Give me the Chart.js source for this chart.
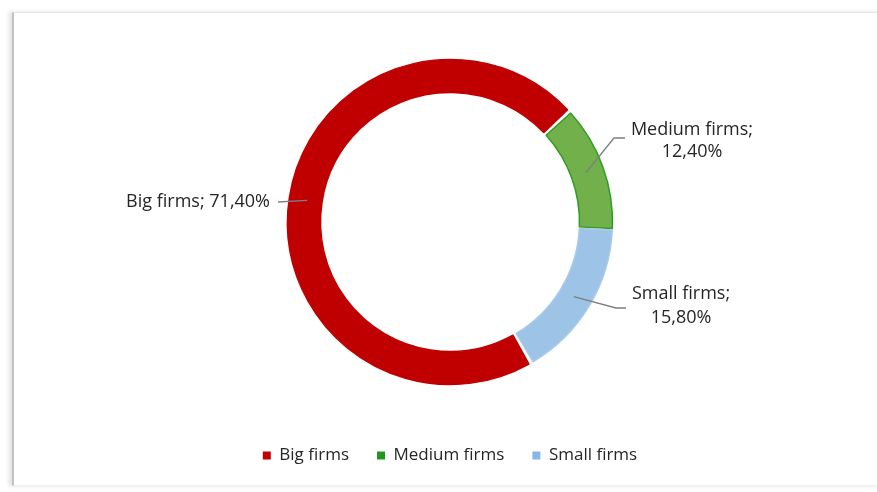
<!DOCTYPE html>
<html>
<head>
<meta charset="utf-8">
<script src="https://cdn.jsdelivr.net/npm/chart.js@4"></script>
<style>
  html, body { margin: 0; padding: 0; background: #fff; overflow: hidden; }
  #wrap { position: relative; width: 877px; height: 492px; }
  #frame {
    position: absolute; left: 12px; top: 12px; width: 900px; height: 472px;
    border-left: 2px solid #c2c2c2; border-top: 1px solid #e6e6e6; border-bottom: 1px solid #efefef;
    box-shadow: -3px 0 4px rgba(0,0,0,0.12);
  }
  #firms-chart { position: absolute; left: 0; top: 0; }
</style>
</head>
<body>
<div id="wrap">
  <div id="frame"></div>
  <canvas id="firms-chart" width="877" height="492"></canvas>
</div>
<script>
const firmTypes = ['Big firms', 'Medium firms', 'Small firms'];
const shares = [71.4, 12.4, 15.8];

const fillColors = ['#c00000', '#72b04c', '#9dc3e6'];
const edgeColors = ['#c00000', '#2e9e24', '#a9cbea'];
const legendColors = ['#c00000', '#22961e', '#85b8e6'];
const textColor = '#262626';
const fontFamily = '"Open Sans", Lato, sans-serif';

// where each data label sits, relative to the ring centre
const labelSpots = [
  { end: [-172, -20], align: 'right', textX: -180, lines: [-20] },
  { elbow: [164, -84], end: [175, -84], align: 'center', textX: 242, lines: [-92, -70] },
  { elbow: [166, 86], end: [176, 86], align: 'center', textX: 231, lines: [72, 96] },
];

function pct(v) {
  return v.toFixed(2).replace('.', ',') + '%';
}

const sliceLabels = {
  id: 'sliceLabels',
  afterDatasetsDraw(chart) {
    const ctx = chart.ctx;
    const meta = chart.getDatasetMeta(0);
    ctx.save();
    meta.data.forEach((arc, i) => {
      const p = arc.getProps(['x', 'y', 'startAngle', 'endAngle', 'innerRadius', 'outerRadius'], true);
      const mid = (p.startAngle + p.endAngle) / 2;
      const r = (p.innerRadius + p.outerRadius) / 2;
      const spot = labelSpots[i];
      ctx.strokeStyle = '#7f7f7f';
      ctx.lineWidth = 1.3;
      ctx.beginPath();
      ctx.moveTo(p.x + Math.cos(mid) * r, p.y + Math.sin(mid) * r);
      if (spot.elbow) ctx.lineTo(p.x + spot.elbow[0], p.y + spot.elbow[1]);
      ctx.lineTo(p.x + spot.end[0], p.y + spot.end[1]);
      ctx.stroke();

      const label = firmTypes[i] + ';';
      const texts = spot.lines.length > 1 ? [label, pct(shares[i])] : [label + ' ' + pct(shares[i])];
      ctx.fillStyle = textColor;
      ctx.font = '18px ' + fontFamily;
      ctx.textAlign = spot.align;
      ctx.textBaseline = 'middle';
      texts.forEach((t, k) => ctx.fillText(t, p.x + spot.textX, p.y + spot.lines[k]));
    });
    ctx.restore();
  }
};

const firmsData = {
  labels: firmTypes,
  datasets: [{
    data: shares,
    backgroundColor: fillColors,
    borderColor: edgeColors,
    borderWidth: 1.5,
    spacing: 3,
  }]
};

const firmsConfig = {
  type: 'doughnut',
  data: firmsData,
  options: {
    responsive: false,
    animation: false,
    rotation: 149.6,
    radius: 161,
    cutout: '79.5%',
    layout: { padding: { left: 23, right: 0, top: 25, bottom: 18 } },
    plugins: {
      tooltip: { enabled: false },
      legend: {
        position: 'bottom',
        labels: {
          boxWidth: 8,
          boxHeight: 8,
          padding: 28,
          color: textColor,
          font: { family: fontFamily, size: 17 },
          generateLabels(chart) {
            return firmTypes.map((name, i) => ({
              text: name,
              fillStyle: legendColors[i],
              strokeStyle: legendColors[i],
              lineWidth: 0,
              fontColor: textColor,
              index: i,
            }));
          }
        }
      }
    }
  },
  plugins: [sliceLabels]
};

const firmsChart = new Chart(document.getElementById('firms-chart'), firmsConfig);
</script>
</body>
</html>
